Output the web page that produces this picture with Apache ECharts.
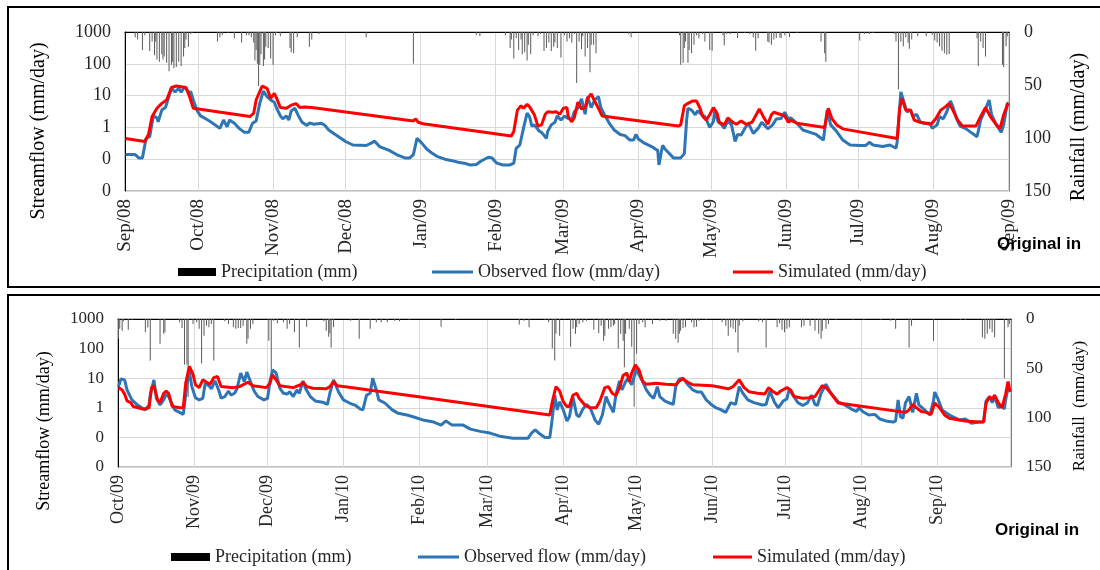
<!DOCTYPE html>
<html>
<head>
<meta charset="utf-8">
<script src="https://cdn.jsdelivr.net/npm/echarts@6/dist/echarts.min.js"></script>
<style>html,body{margin:0;padding:0;background:#fff}#chart{width:1100px;height:570px}</style>
</head>
<body>
<div id="chart"></div>
<script>
// values: [day since start of panel, value]
var obs1 = [[0,0.14],[4,0.14],[5.5,0.11],[7,0.11],[8.5,0.45],[10,0.51],[11.5,2.3],[13,2.0],[13.5,1.5],[15,3.5],[16.5,4.2],[17.5,7.3],[19,17],[20.5,13],[22,17],[23,12.7],[24.5,19],[26,13],[27,13],[28,7.3],[29.5,3.5],[31,2.3],[33,1.9],[35.5,1.45],[39,0.93],[40.5,1.7],[42,1.05],[43,1.7],[45,1.35],[47,0.93],[49,0.71],[51,0.71],[52.5,1.35],[54,1.6],[55.5,5.7],[57,14],[58.5,9.3],[60,7.3],[61.5,6.2],[62.5,4],[64,2.3],[65,1.85],[66.5,2.3],[67.5,1.7],[68.5,3.3],[70,4],[71.5,2.3],[73,1.45],[75,1.14],[76,1.38],[78,1.25],[81,1.35],[82.5,1.14],[84,0.83],[87,0.58],[91,0.36],[94,0.28],[99.5,0.27],[101.5,0.32],[103,0.37],[105,0.25],[109,0.19],[112,0.14],[115.5,0.11],[117.5,0.11],[119,0.14],[120.5,0.45],[121,0.51],[122.5,0.32],[124.5,0.21],[126.5,0.16],[129,0.12],[132,0.1],[135,0.09],[137.5,0.08],[140,0.075],[142.5,0.066],[145,0.068],[147,0.088],[150,0.115],[151.5,0.11],[153.5,0.075],[156,0.066],[159,0.066],[160.5,0.075],[161.5,0.22],[163,0.28],[164.5,0.93],[166,2.8],[167,2.2],[168,1.1],[169,1.2],[171,0.77],[172,0.7],[174,0.45],[174.5,0.74],[176,1.2],[177.5,1.45],[178.5,2.3],[180,1.7],[181.5,2.3],[182.5,2.0],[184.5,1.7],[185.5,3.1],[187,4],[188.5,7.9],[190,2.6],[191,9.3],[192.5,4.2],[194,7.3],[195.5,9.3],[196.5,4.2],[198,2.5],[200,1.35],[202,0.83],[204.5,0.6],[206.5,0.55],[208.5,0.4],[210,0.4],[211,0.6],[212,0.43],[214.5,0.32],[217.5,0.25],[219,0.21],[220,0.19],[220.5,0.066],[222,0.27],[223,0.21],[224.5,0.16],[226.5,0.11],[229.5,0.11],[231,0.15],[232,1.9],[232.5,4],[234,3.5],[235.5,2.5],[236.5,3.3],[238,2.6],[239.5,2.2],[241.5,1.0],[243,1.5],[243.5,3.1],[245,1.5],[246.5,1.2],[247.5,0.93],[249,1.6],[250.5,1.2],[252,0.36],[253,0.6],[254.5,0.58],[256,0.93],[257.5,1.35],[258.5,0.93],[259.5,0.65],[261.5,0.93],[263,1.45],[264,1.2],[265.5,0.9],[267.5,1.2],[269,1.85],[271,1.9],[272.5,3.0],[274,1.85],[275,2.0],[277.5,1.35],[280,0.83],[283,0.7],[285.5,0.6],[288.5,0.4],[290,3.5],[291.5,1.2],[294,0.74],[296.5,0.4],[299.5,0.28],[303.5,0.27],[306,0.27],[307.5,0.34],[309,0.28],[313,0.25],[316,0.28],[318.5,0.22],[319,0.36],[320,4],[320.5,13],[321.5,7.3],[323,3.1],[324.5,3.5],[325.5,2.2],[327,2.6],[328.5,1.5],[330,1.35],[332.5,1.35],[333.5,0.93],[335.5,1.2],[336.5,2.2],[338,1.85],[339.5,3.1],[341,6.8],[342,4.5],[343.5,1.9],[345,1.1],[347.5,0.9],[350,0.65],[352,0.51],[353.5,1.7],[355,3.1],[357,7.3],[358,2.5],[360,1.2],[362,0.7],[363,1.2],[364.5,5.7],[365,5.7]];
var sim1 = [[0,0.45],[8,0.36],[9.5,0.6],[11,2.2],[13,4],[15,5.7],[17,7.3],[19,18],[21,20],[23,19],[25,18],[26.5,9.3],[28,4],[51.5,2.2],[53,2.8],[54,7.3],[56.5,20],[58.5,17],[60,8.2],[61.5,11.8],[62.5,8.2],[64,4.2],[66.5,4],[68.5,5],[70.5,5.6],[72,4.2],[74,4.4],[77,4.2],[119,1.6],[120,1.85],[121,1.45],[123,1.3],[159.5,0.54],[160.5,0.74],[162,3.5],[163.5,4.8],[164.5,4],[166,5.3],[167,4.5],[169,2.5],[170.5,1.1],[172,1.2],[173.5,2.6],[174.5,3.1],[176.5,3.0],[178,3.1],[179.5,2.6],[181,4],[182.5,4.2],[183,2.2],[184.5,1.5],[185.5,2.0],[187,6.2],[188.5,3.8],[190,4.2],[191,8.2],[192.5,11.3],[194,6.5],[195.5,4],[197,2.3],[228.5,1.1],[229.5,1.2],[231,4.8],[232.5,5.7],[234.5,6.8],[236,6.8],[237.5,4],[238.5,2.3],[240,1.7],[241.5,2.5],[243,4.2],[244.5,2.8],[245.5,1.45],[247.5,1.2],[249,2],[251,1.45],[252.5,1.25],[254.5,1.6],[256.5,1.25],[259,1.45],[262,3.8],[263.5,2.3],[265.5,1.25],[267,2.5],[268,3],[270.5,2.6],[272.5,2.3],[274,1.45],[275,1.7],[277.5,1.35],[289,1.0],[290.5,4],[292,1.9],[294,1.2],[296.5,0.9],[319,0.45],[320,4],[321,8.2],[322.5,3.5],[324.5,3.5],[326,1.7],[328.5,1.45],[333,1.25],[335,1.9],[337,3.5],[339,4.5],[340.5,5.7],[342,3.5],[344,1.7],[346,1.1],[351.5,1.1],[353.5,2.2],[355.5,4.2],[357.5,2.2],[360,1.2],[361.5,0.93],[363,2.5],[364.5,5],[365,5.7]];
var rain1 = [[4,5],[5,7],[7,17],[8,3],[10,18],[11,9],[12,22],[12.5,9],[13,26],[14,28],[15,21],[15.5,26],[16,23],[17,29],[18,37],[19,31],[19.5,28],[20,34],[21,33],[22,28],[23,32],[24,23],[24.5,15],[25,7],[26,14],[27,2],[27.5,1],[38,9],[39,5],[40,3],[42.5,1],[45,6],[48,10],[50,3],[51,3],[52,5],[53,10],[53.5,27],[54,17],[54.5,30],[55,51],[55.5,31],[56,21],[57,32],[57.5,26],[58,14],[59,15],[60,25],[61,31],[62,3],[62.5,1],[64,4],[68,15],[68.5,19],[69.5,20],[71,5],[76,14],[77,7],[80,2],[99.5,5],[119,30],[145,3],[146.5,4],[157,3],[159,15],[159.5,7],[160.5,25],[161.5,6],[162.5,17],[163.5,7],[164,21],[165,19],[166,27],[166.5,12],[167.5,21],[168.5,3],[170.5,4],[171.5,2],[173,18],[174,15],[175,10],[176,18],[177,14],[177.5,10],[178.5,15],[180,24],[181.5,3],[182.5,9],[183.5,6],[184.5,10],[185.5,2],[186.5,48],[187.5,9],[188.5,16],[189,4],[190,23],[191,15],[192,38],[192.5,12],[193.5,12],[194.5,20],[208,2],[209,5],[229,3],[229.5,31],[230.5,29],[231,15],[231.5,9],[232.5,29],[233,17],[234,20],[235,12],[236,3],[237,6],[238.5,2],[239.5,9],[241.5,17],[242.5,17.6],[247,3],[247.5,12.6],[248.5,2],[250,2],[253,5.7],[256,1],[258,2],[259.5,5],[260.5,17.6],[261.5,6],[265.5,9],[266,10],[267,12],[268,7],[269,5.7],[270.5,5],[271,5.7],[272.5,3],[274.5,5],[277.5,1],[287.5,9],[289,20],[289.5,28],[303.5,8],[305.5,2],[307.5,2],[309,1],[318,2],[318.5,9],[319.5,54],[320.5,9],[321.5,13.5],[322.5,5],[323.5,10],[324,15.7],[325,7],[327.5,4],[331,4],[333.5,2.5],[334.5,8],[335.5,10],[336.5,13.5],[337.5,17.6],[338.5,20],[339.5,21.4],[340.5,20.8],[352,6],[352.5,32],[353.5,9],[354.5,15],[355.5,23],[362.5,31],[363,33],[364,13.5],[364.5,4]];

var obs2 = [[0,5.2],[1,9.5],[2.5,8.8],[3.5,4],[5.5,1.85],[7.5,1.3],[9.5,1.0],[11,0.85],[12.5,1.25],[13,2.7],[14.5,8.8],[15.5,2.1],[17,1.25],[18.5,1.85],[19.5,2.9],[20.5,2.4],[22,1.3],[23,0.85],[25,0.7],[26.5,0.6],[27,1.25],[28,6],[29,17],[30,5.2],[31.5,2.2],[33,1.85],[34.5,2.1],[35.5,6.8],[37,5.6],[38,4.4],[39.5,8.1],[41,4],[42,2.1],[43.5,2.4],[45,3.7],[46,2.7],[47.5,3.1],[48.5,4.4],[50,15],[51.5,7.7],[52.5,16],[54,7.7],[55.5,3.7],[57,2.4],[59.5,1.85],[61,2.1],[62,7.7],[63,19],[64.5,15],[66,4.6],[67.5,3.1],[69,2.9],[70,3.5],[71.5,2.4],[73,4],[74,3.1],[75.5,8.1],[76.5,4.6],[78.5,2.4],[80.5,1.7],[84,1.5],[85.5,1.3],[86.5,3.1],[88,8.8],[90,3.5],[92,1.85],[94.5,1.45],[97,1.2],[99,0.9],[100,0.85],[101.5,2.7],[103,3.1],[104,10],[105.5,4],[106.5,1.85],[109,1.45],[112,0.85],[114.5,0.65],[118,0.57],[120.5,0.5],[124.5,0.39],[129,0.33],[132,0.26],[134,0.36],[136.5,0.26],[141,0.26],[144,0.19],[148,0.16],[152,0.14],[156,0.11],[161.5,0.093],[167.5,0.093],[169,0.14],[170.5,0.18],[172.5,0.13],[174.5,0.1],[176.5,0.1],[177.5,0.44],[178.5,2.7],[179.5,0.85],[180.5,1.6],[182,0.85],[183.5,0.36],[184.5,0.5],[186,2.2],[187.5,0.57],[188.5,0.5],[190,0.9],[191.5,1.3],[193,1.0],[195,0.39],[196.5,0.28],[198,0.57],[199.5,2.4],[200.5,1.5],[202.5,0.7],[203.5,2.6],[205,8.1],[206,4],[207.5,7.7],[208.5,9.5],[210,6],[211,11.4],[212,21],[213,13],[214.5,7.7],[216,4],[217.5,2.7],[219,2.1],[220.5,5.2],[221.5,2.4],[223.5,1.7],[225.5,1.45],[227,1.3],[228,5.2],[229.5,9.5],[231,10],[233,6],[235,4],[237,3.4],[238.5,3.4],[240.5,1.85],[242.5,1.3],[244.5,1.0],[246,0.9],[248.5,0.7],[250.5,1.5],[252.5,1.3],[254,5.2],[255.5,3.1],[257.5,1.85],[260,1.5],[263.5,1.25],[265,1.3],[266.5,3.7],[268.5,1.5],[270,1.0],[272,1.7],[273.5,2.0],[274.5,4.4],[276,2.6],[278,1.5],[280,1.2],[282,1.5],[283.5,2.7],[285,1.3],[286,1.2],[287.5,3.1],[289.5,6.3],[291.5,3.1],[294.5,1.6],[297.5,1.2],[300.5,0.85],[302,0.75],[303,1.0],[304.5,0.75],[307,0.57],[309.5,0.6],[311.5,0.42],[314,0.36],[317,0.33],[318,0.36],[319,1.85],[320,0.5],[321,0.44],[322,1.45],[323.5,2.4],[325,0.7],[326.5,3.1],[327.5,1.25],[329.5,0.9],[332,0.57],[333.5,1.7],[334,3.4],[335.5,1.85],[337,0.85],[340,0.57],[344,0.39],[346.5,0.42],[349,0.3],[352,0.33],[354,0.34],[355,1.7],[356.5,2.4],[357.5,1.5],[358.5,2.4],[360,1.0],[361.5,1.25],[362.5,0.9],[363,1.85],[364,4.6],[365,3.5]];
var sim2 = [[0,4.8],[1.5,4],[2.5,2.9],[3.5,1.7],[5,1.5],[6,1.1],[8,1.0],[10,0.9],[12.5,1.0],[13.5,4.8],[14.5,5.6],[16,1.85],[17,1.5],[18.5,3.1],[19.5,3.7],[20.5,3.1],[22,1.1],[25,1.0],[26.5,1.0],[27.5,6.8],[29,25],[30.5,13.6],[31.5,6],[33,4.8],[34.5,8.8],[36,7.3],[37.5,6.3],[39,10.5],[40.5,11.4],[42,5.2],[47,4.8],[49.5,5.2],[53,7.3],[55,5.6],[60.5,4.8],[62,6.8],[63,13],[64.5,8.8],[66,5.6],[71.5,4.8],[74.5,6],[75.5,7.3],[77,5.2],[79.5,4.6],[85,4.4],[86.5,5.2],[88,7.7],[89.5,5.6],[92,5.2],[122,2.4],[176.5,0.57],[177.5,1.6],[179,5.2],[180.5,3.7],[182,1.6],[183.5,1.1],[184.5,1.1],[186,2.7],[187.5,3.1],[188.5,2.1],[191,1.2],[193,1.0],[195.5,1.0],[197,1.7],[199,4.8],[200.5,5.2],[202,3.1],[203.5,2.6],[205,4.8],[206.5,12.3],[208,15],[209,7.7],[210,15],[211.5,28],[213,19],[214.5,7.7],[216,6.3],[220,6.8],[224,6.3],[228,6],[229.5,8.1],[231,9.5],[233,7.3],[235,6],[243,5.6],[249.5,4.4],[251.5,5.2],[254,8.8],[256,4.8],[258,3.5],[261.5,3.1],[264.5,2.9],[266,4.8],[267.5,3.7],[269.5,2.9],[271,3.7],[273.5,4.8],[275,4],[276.5,2.4],[280,2.1],[282.5,2.2],[285,2.4],[286.5,3.7],[288,5.6],[289.5,4.8],[291.5,3.1],[294.5,1.45],[322,0.7],[323.5,0.85],[325,1.3],[326.5,1.0],[328.5,0.75],[330.5,0.7],[332.5,0.6],[334,1.45],[336,1.0],[338,0.57],[340,0.44],[346.5,0.36],[352,0.33],[354,0.33],[355,1.45],[356.5,2.4],[357.5,1.85],[358.5,2.7],[360,1.5],[361.5,1.0],[363,2.9],[364,7.7],[364.5,4.8],[365,3.5]];
var rain2 = [[0,20],[0.5,10],[1.5,12],[2,2.4],[4,11],[5.5,1],[11,13.5],[12,8.5],[13,42],[17,25],[18.5,15],[19,13.5],[25,3.4],[26,9],[27,46],[28,46],[28.5,79],[30.5,5],[32,3.4],[33,10],[34,45],[35,17],[36,6.8],[37,8.4],[38,5],[39,42],[43.5,2.4],[45,5],[47,8.4],[48,10],[49,9],[50,9],[51,6.8],[52.5,25],[53,20],[54,10],[55,5],[61.5,22],[62.5,52],[63.5,1.7],[65,4.4],[67.5,3.4],[69,10],[70,5],[72,13.5],[74,29],[77,7.8],[84,2.4],[85,11.8],[86,17.9],[86.5,14.5],[87,29],[88,8.4],[95,1.7],[98.5,20],[103,10],[105.5,3.4],[107.5,3.4],[110,3.4],[113,1.7],[115,2.4],[119,1],[132,7.8],[138,1],[164,5.7],[166,1.7],[168,8.4],[174.5,1],[176,3.4],[177.5,30],[178.5,42],[179,15],[180.5,17],[185,28],[186,10],[187,15],[187.5,8.4],[188.5,5],[190,3.4],[191.5,1.7],[194.5,11],[196.5,14.5],[197.5,6.8],[198.5,22],[199,17],[200.5,10],[201.5,8.4],[202.5,6.8],[203,5],[204.5,30],[205.5,15],[206.5,22],[207,49],[207.5,15],[209,10],[210,28],[211,89],[212,35],[213,5],[214.5,3.4],[215.5,8.4],[218.5,5],[221.5,1.7],[224,1.7],[227,15],[228,20],[229,24],[229.5,15],[230,11.8],[231,9],[232,8.4],[234.5,3.4],[235.5,8.4],[236.5,7.8],[237.5,1.7],[240.5,1],[247,3.4],[248.5,6.8],[249.5,17],[250.5,8.4],[251.5,10],[252.5,13.5],[253.5,34],[254,6.8],[255.5,2.4],[262,2.4],[263.5,3.4],[265,29],[269.5,8.4],[270.5,4.4],[271.5,11],[272.5,13.5],[273.5,10],[274.5,8.4],[279.5,8.4],[280.5,6.8],[283,6.8],[285,11.8],[286.5,15],[287.5,20],[288,11.8],[289.5,10],[290.5,5],[293.5,1],[300.5,1],[305,1],[312,1],[316,1.7],[318,10],[323.5,29],[324.5,6.8],[333.5,22],[344.5,1],[346.5,1],[353.5,18.5],[354.5,20],[355.5,15],[356.5,10],[357.5,13.5],[358.5,18.5],[362.5,60],[364,8.4],[364.5,5]];

var flowTicks = [0.01, 0.1, 1, 10, 100, 1000];
var rainTicks = [0, 50, 100, 150];
var monthNames = ['Jan','Feb','Mar','Apr','May','Jun','Jul','Aug','Sep','Oct','Nov','Dec'];

var DAY = 86400000;
var start1 = new Date(2008, 8, 1).getTime(), end1 = new Date(2009, 8, 1).getTime();
var start2 = new Date(2009, 9, 1).getTime(), end2 = new Date(2010, 9, 1).getTime();

function toTime(start, pairs) {
  return pairs.map(function (p) { return [start + p[0] * DAY, p[1]]; });
}
function monthLabel(v) {
  // half a day of slack so a tick sitting at a month boundary is never read as the month before
  var d = new Date(v + DAY / 2);
  return monthNames[d.getMonth()] + '/' + String(d.getFullYear()).slice(2);
}

var serif = '"Liberation Serif", "Times New Roman", serif';
var tickColor = '#262626';
var gridColor = '#d9d9d9';

function xAxisFor(grid, min, max, size, showLast) {
  return {
    type: 'time', gridIndex: grid, min: min, max: max,
    splitNumber: 12, minInterval: 28 * DAY, maxInterval: 31 * DAY,
    axisLine: { lineStyle: { color: '#000', width: 1 } },
    axisTick: { show: false },
    axisLabel: { rotate: 90, margin: 8, fontSize: size, fontFamily: serif, color: tickColor,
      formatter: function (v) { return (!showLast && v > max - DAY) ? '' : monthLabel(v); },
      showMinLabel: true, showMaxLabel: showLast, hideOverlap: false },
    splitLine: { show: true, lineStyle: { color: gridColor, width: 1 } }
  };
}
function flowAxis(grid, size) {
  return {
    type: 'log', logBase: 10, gridIndex: grid, position: 'left',
    min: flowTicks[0], max: flowTicks[flowTicks.length - 1], splitNumber: 5,
    axisLine: { show: true, lineStyle: { color: '#000', width: 1 } },
    axisTick: { show: false },
    axisLabel: { margin: 14, fontSize: size, fontFamily: serif, color: tickColor,
      formatter: function (v) { return v < 1 ? '0' : String(Math.round(v)); } },
    splitLine: { show: true, lineStyle: { color: gridColor, width: 1 } }
  };
}
function rainAxis(grid, size) {
  return {
    type: 'value', gridIndex: grid, position: 'right', inverse: true,
    min: rainTicks[0], max: rainTicks[rainTicks.length - 1], interval: rainTicks[1] - rainTicks[0],
    axisLine: { show: true, lineStyle: { color: '#808080', width: 1 } },
    axisTick: { show: false },
    axisLabel: { margin: 15, fontSize: size, fontFamily: serif, color: tickColor },
    splitLine: { show: false }
  };
}
function legendAt(left, top, name, icon, w, h, color) {
  return {
    left: left, top: top, padding: 0, itemGap: 0, selectedMode: false,
    itemWidth: w, itemHeight: h,
    textStyle: { fontFamily: serif, fontSize: 18, color: tickColor, padding: [0, 0, 0, 0] },
    data: [{ name: name, icon: icon, itemStyle: { color: color } }]
  };
}
function titleText(x, y, text, size, rot) {
  return { type: 'text', x: x, y: y, rotation: rot, z: 10,
    style: { text: text, x: 0, y: 0, align: 'center', verticalAlign: 'middle',
      font: size + 'px ' + serif, fill: '#000' } };
}

var P = 'Precipitation (mm)', O = 'Observed flow (mm/day)', S = 'Simulated (mm/day)';

var chart = echarts.init(document.getElementById('chart'), null, { renderer: 'canvas' });
chart.setOption({
  animation: false,
  backgroundColor: '#fff',
  grid: [
    { left: 125, top: 32, width: 884, height: 159, show: true, borderColor: '#808080', borderWidth: 1 },
    { left: 118, top: 319, width: 893, height: 148, show: true, borderColor: '#808080', borderWidth: 1 }
  ],
  xAxis: [xAxisFor(0, start1, end1, 19, true), xAxisFor(1, start2, end2, 18, false)],
  yAxis: [flowAxis(0, 18), rainAxis(0, 18), flowAxis(1, 17), rainAxis(1, 17)],
  legend: [
    legendAt(178, 263, P, 'rect', 38, 8, '#000'),
    legendAt(432, 263, O, 'rect', 41, 3, '#2e75b6'),
    legendAt(733, 263, S, 'rect', 40, 3, '#ff0000'),
    legendAt(171, 548, P, 'rect', 39, 8, '#000'),
    legendAt(418, 548, O, 'rect', 41, 3, '#2e75b6'),
    legendAt(713, 548, S, 'rect', 39, 3, '#ff0000')
  ],
  graphic: [
    { type: 'rect', shape: { x: 8, y: 7, width: 1200, height: 280 }, style: { fill: 'none', stroke: '#000', lineWidth: 2 }, z: 10 },
    { type: 'rect', shape: { x: 8, y: 295, width: 1200, height: 400 }, style: { fill: 'none', stroke: '#000', lineWidth: 2 }, z: 10 },
    titleText(39, 131, 'Streamflow (mm/day)', 20, Math.PI / 2),
    titleText(1079, 127, 'Rainfall (mm/day)', 20, Math.PI / 2),
    titleText(44, 431, 'Streamflow (mm/day)', 18, Math.PI / 2),
    titleText(1080, 406, 'Rainfall  (mm/day)', 17, Math.PI / 2),
    { type: 'text', left: 997, top: 236, z: 10, style: { text: 'Original in', font: 'bold 17px "Liberation Sans", Arial, sans-serif', fill: '#000' } },
    { type: 'text', left: 995, top: 522, z: 10, style: { text: 'Original in', font: 'bold 17px "Liberation Sans", Arial, sans-serif', fill: '#000' } }
  ],
  series: [
    { name: P, type: 'bar', xAxisIndex: 0, yAxisIndex: 1, barWidth: 1, itemStyle: { color: '#5a5a5a' }, data: toTime(start1, rain1) },
    { name: O, type: 'line', xAxisIndex: 0, yAxisIndex: 0, symbol: 'none', showSymbol: false, lineStyle: { color: '#2e75b6', width: 3 }, itemStyle: { color: '#2e75b6' }, data: toTime(start1, obs1) },
    { name: S, type: 'line', xAxisIndex: 0, yAxisIndex: 0, symbol: 'none', showSymbol: false, lineStyle: { color: '#ff0000', width: 3 }, itemStyle: { color: '#ff0000' }, data: toTime(start1, sim1) },
    { name: P, type: 'bar', xAxisIndex: 1, yAxisIndex: 3, barWidth: 1, itemStyle: { color: '#5a5a5a' }, data: toTime(start2, rain2) },
    { name: O, type: 'line', xAxisIndex: 1, yAxisIndex: 2, symbol: 'none', showSymbol: false, lineStyle: { color: '#2e75b6', width: 3 }, itemStyle: { color: '#2e75b6' }, data: toTime(start2, obs2) },
    { name: S, type: 'line', xAxisIndex: 1, yAxisIndex: 2, symbol: 'none', showSymbol: false, lineStyle: { color: '#ff0000', width: 3 }, itemStyle: { color: '#ff0000' }, data: toTime(start2, sim2) }
  ]
});
</script>
</body>
</html>
